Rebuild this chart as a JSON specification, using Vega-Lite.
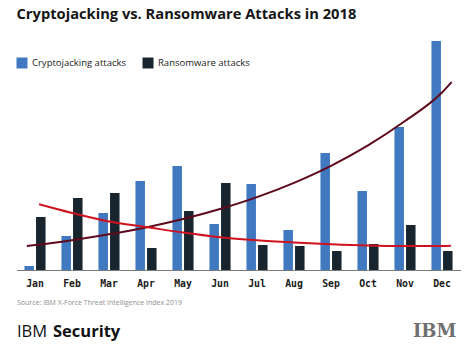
{
  "$schema": "https://vega.github.io/schema/vega-lite/v6.json",
  "width": 444,
  "height": 230,
  "autosize": {"type": "none"},
  "padding": {"left": 16.5, "top": 40, "right": 13.5, "bottom": 85},
  "background": "white",
  "config": {"view": {"stroke": null}, "font": "Open Sans"},
  "title": {
    "text": "Cryptojacking vs. Ransomware Attacks in 2018",
    "anchor": "start",
    "frame": "group",
    "font": "Open Sans",
    "fontSize": 14.7,
    "fontWeight": "bold",
    "color": "#151515",
    "baseline": "alphabetic",
    "offset": 6
  },
  "datasets": {
    "bars": [
      {"month": "Jan", "series": "Cryptojacking attacks", "value": 4},
      {"month": "Feb", "series": "Cryptojacking attacks", "value": 34},
      {"month": "Mar", "series": "Cryptojacking attacks", "value": 57},
      {"month": "Apr", "series": "Cryptojacking attacks", "value": 89},
      {"month": "May", "series": "Cryptojacking attacks", "value": 104},
      {"month": "Jun", "series": "Cryptojacking attacks", "value": 46},
      {"month": "Jul", "series": "Cryptojacking attacks", "value": 86},
      {"month": "Aug", "series": "Cryptojacking attacks", "value": 40},
      {"month": "Sep", "series": "Cryptojacking attacks", "value": 117},
      {"month": "Oct", "series": "Cryptojacking attacks", "value": 79},
      {"month": "Nov", "series": "Cryptojacking attacks", "value": 143},
      {"month": "Dec", "series": "Cryptojacking attacks", "value": 229},
      {"month": "Jan", "series": "Ransomware attacks", "value": 53},
      {"month": "Feb", "series": "Ransomware attacks", "value": 72},
      {"month": "Mar", "series": "Ransomware attacks", "value": 77},
      {"month": "Apr", "series": "Ransomware attacks", "value": 22},
      {"month": "May", "series": "Ransomware attacks", "value": 59},
      {"month": "Jun", "series": "Ransomware attacks", "value": 87},
      {"month": "Jul", "series": "Ransomware attacks", "value": 25},
      {"month": "Aug", "series": "Ransomware attacks", "value": 24},
      {"month": "Sep", "series": "Ransomware attacks", "value": 19},
      {"month": "Oct", "series": "Ransomware attacks", "value": 26},
      {"month": "Nov", "series": "Ransomware attacks", "value": 45},
      {"month": "Dec", "series": "Ransomware attacks", "value": 19}
    ],
    "trendCrypto": [
      {"m": 0.78, "value": 24},
      {"m": 1, "value": 24.9},
      {"m": 2, "value": 29.8},
      {"m": 3, "value": 35.7},
      {"m": 4, "value": 42.6},
      {"m": 5, "value": 51},
      {"m": 6, "value": 61},
      {"m": 7, "value": 72.9},
      {"m": 8, "value": 87.2},
      {"m": 9, "value": 104.2},
      {"m": 10, "value": 124.6},
      {"m": 11, "value": 149},
      {"m": 12, "value": 177.5},
      {"m": 12.26, "value": 188}
    ],
    "trendRansom": [
      {"m": 1.11, "value": 65.7},
      {"m": 2, "value": 57},
      {"m": 3, "value": 48.5},
      {"m": 4, "value": 43},
      {"m": 5, "value": 37.5},
      {"m": 6, "value": 32.8},
      {"m": 7, "value": 29.7},
      {"m": 8, "value": 27.5},
      {"m": 9, "value": 25.7},
      {"m": 10, "value": 24.4},
      {"m": 11, "value": 23.9},
      {"m": 12, "value": 24},
      {"m": 12.24, "value": 24.2}
    ]
  },
  "layer": [
    {
      "data": {"name": "bars"},
      "mark": {"type": "bar"},
      "encoding": {
        "x": {
          "field": "month",
          "type": "nominal",
          "sort": ["Jan", "Feb", "Mar", "Apr", "May", "Jun", "Jul", "Aug", "Sep", "Oct", "Nov", "Dec"],
          "scale": {"paddingInner": 0.43, "paddingOuter": 0.215},
          "axis": {
            "labelAngle": 0,
            "labelFont": "DejaVu Sans Mono",
            "labelFontWeight": "bold",
            "labelFontSize": 9.8,
            "labelColor": "#1a1a1a",
            "labelPadding": 8,
            "ticks": false,
            "tickSize": 0,
            "domainColor": "#7a7a7a",
            "domainWidth": 1,
            "title": "Source: IBM X-Force Threat Intelligence Index 2019",
            "titleFont": "Open Sans",
            "titleFontSize": 7,
            "titleFontWeight": "normal",
            "titleColor": "#8f8f8f",
            "titleAnchor": "start",
            "titleAlign": "left",
            "titleBaseline": "middle",
            "titleX": 0,
            "titleY": 32
          }
        },
        "xOffset": {
          "field": "series",
          "type": "nominal",
          "sort": ["Cryptojacking attacks", "Ransomware attacks"],
          "scale": {"paddingInner": 0.18, "paddingOuter": 0}
        },
        "y": {
          "field": "value",
          "type": "quantitative",
          "scale": {"domain": [0, 230], "nice": false, "zero": true},
          "axis": {
            "domain": false,
            "ticks": false,
            "labels": false,
            "grid": false,
            "title": "Security",
            "titleFont": "Open Sans",
            "titleFontSize": 16.5,
            "titleFontWeight": "bold",
            "titleColor": "#111111",
            "titleAngle": 0,
            "titleAlign": "left",
            "titleBaseline": "alphabetic",
            "titleX": 36,
            "titleY": 296
          }
        },
        "color": {
          "field": "series",
          "type": "nominal",
          "scale": {
            "domain": ["Cryptojacking attacks", "Ransomware attacks"],
            "range": ["#4079c0", "#18252f"]
          },
          "legend": {
            "orient": "none",
            "legendX": 0,
            "legendY": 17.5,
            "direction": "horizontal",
            "title": null,
            "symbolType": "square",
            "symbolSize": 121,
            "symbolStrokeWidth": 0,
            "labelFont": "Open Sans",
            "labelFontSize": 9.5,
            "labelColor": "#222222",
            "labelOffset": 4.5,
            "columnPadding": 16,
            "padding": 0
          }
        }
      }
    },
    {
      "layer": [
        {
          "data": {"name": "trendCrypto"},
          "mark": {"type": "line", "interpolate": "monotone", "color": "#5e0a1c", "strokeWidth": 2},
          "encoding": {
            "x": {
              "field": "m",
              "type": "quantitative",
              "scale": {"domain": [0.5, 12.5], "nice": false, "zero": false},
              "axis": {
                "orient": "bottom",
                "domain": false,
                "ticks": false,
                "labels": false,
                "grid": false,
                "title": "IBM",
                "titleFont": "Open Sans",
                "titleFontSize": 16.5,
                "titleFontWeight": "normal",
                "titleColor": "#111111",
                "titleAnchor": "start",
                "titleAlign": "left",
                "titleBaseline": "alphabetic",
                "titleX": 0,
                "titleY": 66
              }
            },
            "y": {
              "field": "value",
              "type": "quantitative",
              "scale": {"domain": [0, 230], "nice": false, "zero": true},
              "axis": {
                "orient": "right",
                "domain": false,
                "ticks": false,
                "labels": false,
                "grid": false,
                "title": "IBM",
                "titleFont": "DejaVu Serif",
                "titleFontSize": 18,
                "titleFontWeight": "bold",
                "titleColor": "#707070",
                "titleAngle": 0,
                "titleAlign": "right",
                "titleBaseline": "alphabetic",
                "titleX": -4.5,
                "titleY": 296.7
              }
            }
          }
        },
        {
          "data": {"name": "trendRansom"},
          "mark": {"type": "line", "interpolate": "monotone", "color": "#d0121f", "strokeWidth": 2},
          "encoding": {
            "x": {"field": "m", "type": "quantitative"},
            "y": {"field": "value", "type": "quantitative"}
          }
        }
      ]
    }
  ],
  "resolve": {"scale": {"x": "independent", "y": "independent"}}
}
